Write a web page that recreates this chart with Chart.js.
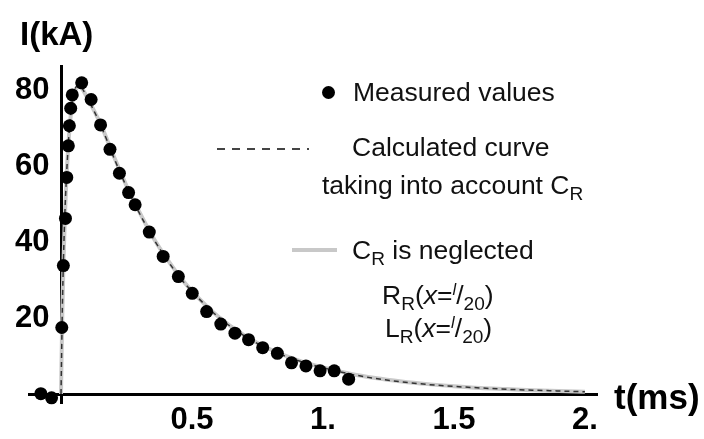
<!DOCTYPE html>
<html>
<head>
<meta charset="utf-8">
<script src="https://cdn.jsdelivr.net/npm/chart.js@4.4.0/dist/chart.umd.min.js"></script>
<style>
  body { margin: 0; background: #fff; }
  #wrap { position: relative; width: 704px; height: 439px; font-family: "Liberation Sans", Arial, sans-serif; color: #111; }
  canvas { position: absolute; left: 0; top: 0; }
  .lbl { position: absolute; white-space: nowrap; font-size: 26.5px; line-height: 30px; }
  .lbl sub { font-size: 0.72em; vertical-align: -0.3em; line-height: 0; }
  .lbl sup { font-size: 0.62em; vertical-align: 0.55em; line-height: 0; }
  .title { position: absolute; white-space: nowrap; font-weight: bold; font-size: 33px; line-height: 36px; color: #000; }
  .dot { position: absolute; width: 13px; height: 13px; border-radius: 50%; background: #000; }
  .dash { position: absolute; height: 2px; background: repeating-linear-gradient(to right, #444 0 8px, transparent 8px 15px); }
  .grayline { position: absolute; height: 4px; background: #c8c8c8; }
</style>
</head>
<body>
<div id="wrap">
  <canvas id="chart" width="704" height="439"></canvas>
  <div class="title" style="left:20px; top:16px;">I(kA)</div>
  <div class="title" style="left:614px; top:378px; font-size:35px; line-height:38px;">t(ms)</div>

  <span class="dot" style="left:322px; top:86px;"></span>
  <div class="lbl" style="left:353px; top:77px;">Measured values</div>

  <span class="dash" style="left:217px; top:148px; width:92px;"></span>
  <div class="lbl" style="left:352px; top:132px;">Calculated curve</div>
  <div class="lbl" style="left:322px; top:170px;">taking into account C<sub>R</sub></div>

  <span class="grayline" style="left:292px; top:248px; width:45px;"></span>
  <div class="lbl" style="left:352px; top:235px;">C<sub>R</sub> is neglected</div>
  <div class="lbl" style="left:382px; top:280px;">R<sub>R</sub>(<i>x</i>=<sup><i>l</i></sup>/<sub>20</sub>)</div>
  <div class="lbl" style="left:385px; top:313px;">L<sub>R</sub>(<i>x</i>=<sup><i>l</i></sup>/<sub>20</sub>)</div>
</div>
<script>
  // measured current
  var tMeasured = [-0.077, -0.036, 0.003, 0.009, 0.017, 0.022, 0.028, 0.032, 0.037, 0.043,
    0.079, 0.115, 0.151, 0.187, 0.223, 0.258, 0.283, 0.337, 0.39, 0.448,
    0.501, 0.556, 0.61, 0.664, 0.716, 0.77, 0.826, 0.88, 0.935, 0.989, 1.043, 1.098];
  var iMeasured = [0.1, -1.0, 17.5, 33.8, 46.2, 57.0, 65.3, 70.6, 75.2, 78.7,
    81.9, 77.5, 70.8, 64.4, 58.1, 53.0, 49.8, 42.6, 36.2, 30.9,
    26.5, 21.7, 18.4, 16.0, 14.3, 12.2, 10.7, 8.2, 7.4, 6.1, 6.1, 3.9];

  // calculated curves
  var tCurve = [0, 0.005, 0.01, 0.015, 0.02, 0.03, 0.04, 0.05, 0.06, 0.07, 0.08, 0.1,
    0.15, 0.2, 0.25, 0.3, 0.35, 0.4, 0.45, 0.5, 0.6, 0.7, 0.8, 0.9, 1.0,
    1.1, 1.2, 1.3, 1.4, 1.5, 1.6, 1.7, 1.8, 1.9, 2.0];
  var iCalculated = [0, 22, 37, 48, 56, 68, 75.5, 79.5, 81, 81.2, 80.5, 78,
    71, 62.5, 54.5, 47.5, 41.2, 35.8, 31, 27, 20.3, 15.3, 11.6, 8.9, 6.9,
    5.3, 4.1, 3.2, 2.5, 2.0, 1.6, 1.25, 1.0, 0.8, 0.6];
  var iNeglected = [0, 21, 36, 47, 55.5, 67.5, 75, 79, 80.6, 81, 80.4, 78,
    71.2, 62.8, 54.8, 47.8, 41.4, 36, 31.2, 27.1, 20.4, 15.4, 11.7, 9, 7,
    5.4, 4.2, 3.3, 2.6, 2.05, 1.6, 1.3, 1.0, 0.8, 0.6];

  var xTicks = [0, 0.5, 1, 1.5, 2];
  var xTickLabels = ['', '0.5', '1.', '1.5', '2.'];
  var yTicks = [0, 20, 40, 60, 80];
  var yTickLabels = ['', '20', '40', '60', '80'];

  function toPoints(xs, ys) {
    return xs.map(function(x, i) { return { x: x, y: ys[i] }; });
  }

  function zeroLine(c) {
    return (c.tick && c.tick.value === 0) ? '#000' : 'rgba(0,0,0,0)';
  }

  var tickFont = { family: '"Liberation Sans", Arial, sans-serif', size: 31, weight: 'bold', lineHeight: 1 };

  var ctx = document.getElementById('chart').getContext('2d');
  var chart = new Chart(ctx, {
    type: 'scatter',
    data: {
      datasets: [
        {
          label: 'Measured values',
          data: toPoints(tMeasured, iMeasured),
          pointRadius: 6.5,
          pointBackgroundColor: '#000',
          pointBorderWidth: 0,
          clip: false,
          order: 0
        },
        {
          label: 'Calculated curve taking into account CR',
          data: toPoints(tCurve, iCalculated),
          showLine: true,
          pointRadius: 0,
          borderColor: '#333',
          borderWidth: 1.5,
          borderDash: [5, 4],
          cubicInterpolationMode: 'monotone',
          order: 1
        },
        {
          label: 'CR is neglected',
          data: toPoints(tCurve, iNeglected),
          showLine: true,
          pointRadius: 0,
          borderColor: '#c9c9c9',
          borderWidth: 4,
          cubicInterpolationMode: 'monotone',
          order: 2
        }
      ]
    },
    options: {
      responsive: false,
      animation: false,
      layout: { padding: { left: 28, right: 106, top: 65, bottom: 0 } },
      plugins: { legend: { display: false }, tooltip: { enabled: false } },
      scales: {
        x: {
          type: 'linear',
          min: -0.126,
          max: 2.05,
          afterBuildTicks: function(s) { s.ticks = xTicks.map(function(v) { return { value: v }; }); },
          afterFit: function(s) { s.height = 35; },
          border: { display: false },
          grid: { drawTicks: false, color: zeroLine, lineWidth: 3 },
          ticks: {
            padding: 1,
            maxRotation: 0,
            autoSkip: false,
            color: '#000',
            font: tickFont,
            callback: function(v) { return xTickLabels[xTicks.indexOf(v)]; }
          }
        },
        y: {
          type: 'linear',
          min: -2.63,
          max: 86.58,
          afterBuildTicks: function(s) { s.ticks = yTicks.map(function(v) { return { value: v }; }); },
          afterFit: function(s) { s.width = 0; },
          border: { display: false },
          grid: { drawTicks: false, color: zeroLine, lineWidth: 3 },
          ticks: {
            mirror: true,
            padding: -13,
            color: '#000',
            font: tickFont,
            callback: function(v) { return yTickLabels[yTicks.indexOf(v)]; }
          }
        }
      }
    }
  });
</script>
</body>
</html>
